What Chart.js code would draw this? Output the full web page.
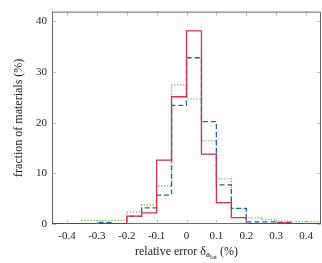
<!DOCTYPE html>
<html>
<head>
<meta charset="utf-8">
<script src="https://cdn.jsdelivr.net/npm/chart.js@4.4.1/dist/chart.umd.min.js"></script>
<style>
html,body{margin:0;padding:0;background:#fff;}
#wrap{width:322px;height:263px;position:relative;}
</style>
</head>
<body>
<div id="wrap"><canvas id="c" width="322" height="263"></canvas></div>
<script>
// Bin left edges (width 0.05) and the final right edge
const binStarts = [-0.45,-0.4,-0.35,-0.3,-0.25,-0.2,-0.15,-0.1,-0.05,0,0.05,0.1,0.15,0.2,0.25,0.3,0.35,0.4];
const lastEdge = 0.45;
// Fraction of materials (%) per bin
const redValues   = [0,0,0,0,0,1.55,2.2,12.6,25.1,38.1,13.8,4.2,1.25,0,0,0.2,0,0];
const blueValues  = [0,0,0,0.3,0,1.5,3.2,5.7,23.4,32.8,20.2,7.7,3.1,0.4,0.4,0.3,0,0];
const greenValues = [0,0,0.7,0.7,0.7,2.4,3.8,7.5,27.4,24.7,16.4,8.9,3.0,1.2,0.9,0.55,0.45,0.45];
const xTicks = [-0.4,-0.3,-0.2,-0.1,0,0.1,0.2,0.3,0.4];
const yTicks = [0,10,20,30,40];
const xTitle = "relative error δ";
const xTitleSub = "a";
const xTitleSubSub = "lat";
const xTitleEnd = " (%)";
const yTitle = "fraction of materials (%)";

function toSteps(vals){
  const pts = binStarts.map((x,i)=>({x:x, y:vals[i]}));
  pts.push({x:lastEdge, y:vals[vals.length-1]});
  return pts;
}

const FONT = "'Liberation Serif', 'DejaVu Serif', serif";

const framePlugin = {
  id:'frame',
  afterDraw(chart){
    const ctx = chart.ctx;
    const a = chart.chartArea;
    const xs = chart.scales.x, ys = chart.scales.y;
    ctx.save();
    ctx.strokeStyle = '#444';
    ctx.lineWidth = 0.8;
    ctx.strokeRect(a.left+0.5, a.top+0.5, a.right-a.left-1, a.bottom-a.top-1);
    // inward ticks
    ctx.strokeStyle = '#999';
    ctx.lineWidth = 0.6;
    ctx.beginPath();
    xTicks.forEach(v=>{
      const px = Math.round(xs.getPixelForValue(v))+0.5;
      ctx.moveTo(px, a.bottom); ctx.lineTo(px, a.bottom-4);
      ctx.moveTo(px, a.top); ctx.lineTo(px, a.top+4);
    });
    yTicks.forEach(v=>{
      const py = Math.round(ys.getPixelForValue(v))+0.5;
      ctx.moveTo(a.left, py); ctx.lineTo(a.left+4, py);
      ctx.moveTo(a.right, py); ctx.lineTo(a.right-4, py);
    });
    ctx.stroke();
    // titles
    ctx.fillStyle = '#1a1a1a';
    ctx.textBaseline = 'alphabetic';
    const f1 = "12px " + FONT, f2 = "9px " + FONT, f3 = "7px " + FONT;
    ctx.font = f1; const w1 = ctx.measureText(xTitle).width;
    ctx.font = f2; const w2 = ctx.measureText(xTitleSub).width;
    ctx.font = f3; const w3 = ctx.measureText(xTitleSubSub).width;
    ctx.font = f1; const w4 = ctx.measureText(xTitleEnd).width;
    const total = w1+w2+w3+w4;
    const cx = (a.left+a.right)/2;
    let x0 = cx - total/2;
    const base = 255;
    ctx.textAlign = 'left';
    ctx.font = f1; ctx.fillText(xTitle, x0, base); x0 += w1;
    ctx.font = f2; ctx.fillText(xTitleSub, x0, base+2); x0 += w2;
    ctx.font = f3; ctx.fillText(xTitleSubSub, x0, base+4); x0 += w3;
    ctx.font = f1; ctx.fillText(xTitleEnd, x0, base);
    ctx.save();
    ctx.translate(22, (a.top+a.bottom)/2);
    ctx.rotate(-Math.PI/2);
    ctx.textAlign = 'center';
    ctx.font = f1;
    ctx.fillText(yTitle, 0, 0);
    ctx.restore();
    ctx.restore();
  }
};

new Chart(document.getElementById('c'), {
  type:'line',
  data:{
    datasets:[
      {data:toSteps(redValues), borderColor:'#dc2d55', borderWidth:1.3, stepped:true, pointRadius:0, fill:false},
      {data:toSteps(blueValues), borderColor:'#1f64a8', borderWidth:1.3, borderDash:[5,3], stepped:true, pointRadius:0, fill:false},
      {data:toSteps(greenValues), borderColor:'#5cc236', borderWidth:1.3, borderDash:[1.2,1.8], stepped:true, pointRadius:0, fill:false}
    ]
  },
  options:{
    responsive:false,
    animation:false,
    devicePixelRatio:1,
    layout:{padding:{top:0, right:1, left:0, bottom:0}},
    plugins:{legend:{display:false}, tooltip:{enabled:false}},
    scales:{
      x:{
        type:'linear', min:-0.45, max:0.45,
        afterBuildTicks(s){ s.ticks = xTicks.map(v=>({value:v})); },
        afterFit(s){ s.height = 39; },
        grid:{display:false, drawTicks:false},
        border:{display:false},
        ticks:{padding:6, color:'#1a1a1a', font:{family:FONT, size:11},
          callback:(v)=> v===0 ? '0' : v.toFixed(1)}
      },
      y:{
        type:'linear', min:0, max:41.9,
        afterBuildTicks(s){ s.ticks = yTicks.map(v=>({value:v})); },
        afterFit(s){ s.width = 52; },
        grid:{display:false, drawTicks:false},
        border:{display:false},
        ticks:{padding:5, color:'#1a1a1a', font:{family:FONT, size:11}}
      }
    }
  },
  plugins:[framePlugin]
});
</script>
</body>
</html>
